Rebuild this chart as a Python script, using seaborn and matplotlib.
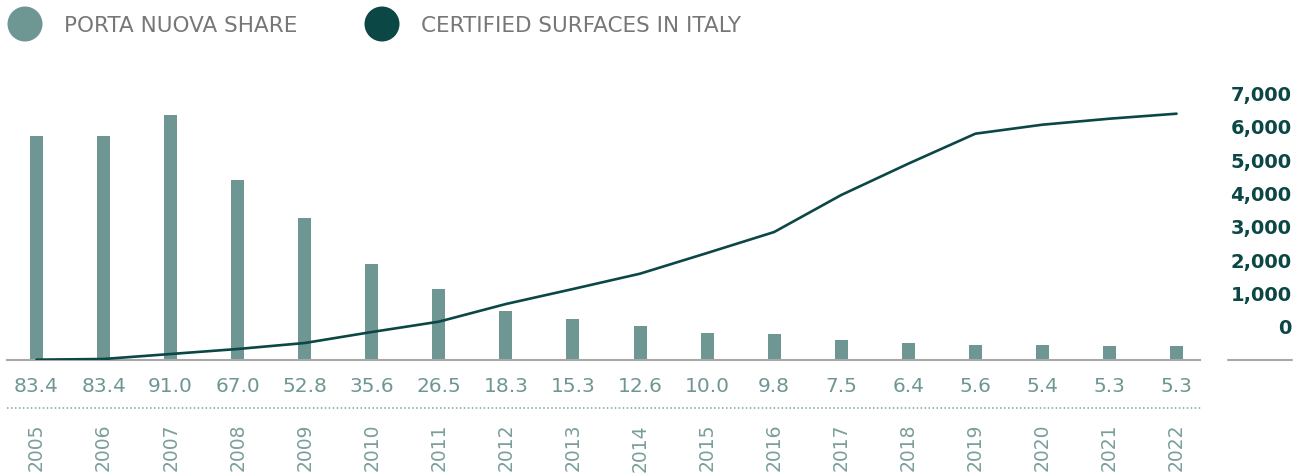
import numpy as np
import pandas as pd
import seaborn as sns
import matplotlib.pyplot as plt
from matplotlib.lines import Line2D
from matplotlib.patches import Circle
from matplotlib.transforms import ScaledTranslation, blended_transform_factory

# ---- data -------------------------------------------------------------
years = [str(y) for y in range(2005, 2023)]
share_pct = [83.4, 83.4, 91.0, 67.0, 52.8, 35.6, 26.5, 18.3, 15.3,
             12.6, 10.0, 9.8, 7.5, 6.4, 5.6, 5.4, 5.3, 5.3]
certified_surfaces = [10, 30, 180, 330, 510, 840, 1150, 1680, 2130,
                      2590, 3210, 3840, 4950, 5890, 6790, 7060, 7240, 7390]
surface_ticks = [0, 1000, 2000, 3000, 4000, 5000, 6000, 7000]
legend_labels = ["PORTA NUOVA SHARE", "CERTIFIED SURFACES IN ITALY"]

# ---- style ------------------------------------------------------------
BAR = "#6e9794"
LINE = "#0b4745"
LABEL = "#6e9794"
BASE = "#a8a8a8"

sns.set_theme(style="white")
plt.rcParams["font.family"] = ["DejaVu Sans"]

W, H = 1305, 477
fig = plt.figure(figsize=(W / 100, H / 100), dpi=100)


def px_rect(x0, y0, x1, y1):
    return [x0 / W, 1 - y1 / H, (x1 - x0) / W, (y1 - y0) / H]


# ---- bars (share) -----------------------------------------------------
ax = fig.add_axes(px_rect(7, 80, 1200, 361))
df = pd.DataFrame({"year": years, "share": share_pct})
sns.barplot(data=df, x="year", y="share", ax=ax, color=BAR,
            saturation=1, width=0.194, linewidth=0, edgecolor="none")
ax.set_xlim(-0.44, 17.35)
ax.set_ylim(0, 281 / 2.69)
ax.set_xlabel("")
ax.set_ylabel("")
ax.set_xticks([])
ax.set_yticks([])
for side in ["top", "left", "right"]:
    ax.spines[side].set_visible(False)
ax.spines["bottom"].set_color(BASE)
ax.spines["bottom"].set_linewidth(1.5)

# ---- line (certified surfaces) on the right axis ----------------------
ax2 = ax.twinx()
sns.lineplot(x=np.arange(len(years)), y=certified_surfaces, ax=ax2,
             color=LINE, linewidth=1.9)
ax2.set_ylim(0, 281 / 33.33 * 1000)
ax2.set_yticks(surface_ticks)
ax2.set_yticklabels([f"{v:,}" for v in surface_ticks],
                    fontsize=14, fontweight="bold", color=LINE)
ax2.tick_params(axis="y", length=0, pad=66)
shift = ScaledTranslation(0, 0.3433, fig.dpi_scale_trans)
for lab in ax2.get_yticklabels():
    lab.set_horizontalalignment("right")
    lab.set_transform(lab.get_transform() + shift)
for side in ["top", "left", "right", "bottom"]:
    ax2.spines[side].set_visible(False)
ax2.set_ylabel("")

# short baseline segment under the right-hand scale
fig.add_artist(Line2D([1228 / W, 1292 / W], [1 - 361 / H] * 2,
                      color=BASE, linewidth=1.5))

# ---- value row, dotted separator, year row ----------------------------
tr = blended_transform_factory(ax.transData, fig.transFigure)
for i, v in enumerate(share_pct):
    ax.text(i, 1 - 387 / H, f"{v:.1f}", transform=tr, ha="center",
            va="center", fontsize=14.5, color=LABEL, clip_on=False)
    ax.text(i, 1 - 424 / H, years[i], transform=tr, ha="center",
            va="top", rotation=90, fontsize=13.5, color="#7a9e9b",
            clip_on=False)

fig.add_artist(Line2D([7 / W, 1202 / W], [1 - 409 / H] * 2,
                      color="#7f9f9c", linewidth=1.1,
                      linestyle=(0, (1, 1.6))))

# ---- legend -----------------------------------------------------------
leg = fig.add_axes([0, 0, 1, 1])
leg.set_xlim(0, W)
leg.set_ylim(H, 0)
leg.axis("off")
leg.patch.set_alpha(0)
for cx, color, tx, text in [(25, BAR, 64, legend_labels[0]),
                            (382, LINE, 421, legend_labels[1])]:
    leg.add_patch(Circle((cx, 25), 17.5, color=color, lw=0))
    leg.text(tx, 26, text, ha="left", va="center", fontsize=15.5,
             color="#777777")

fig.savefig("out.png", dpi=100)
